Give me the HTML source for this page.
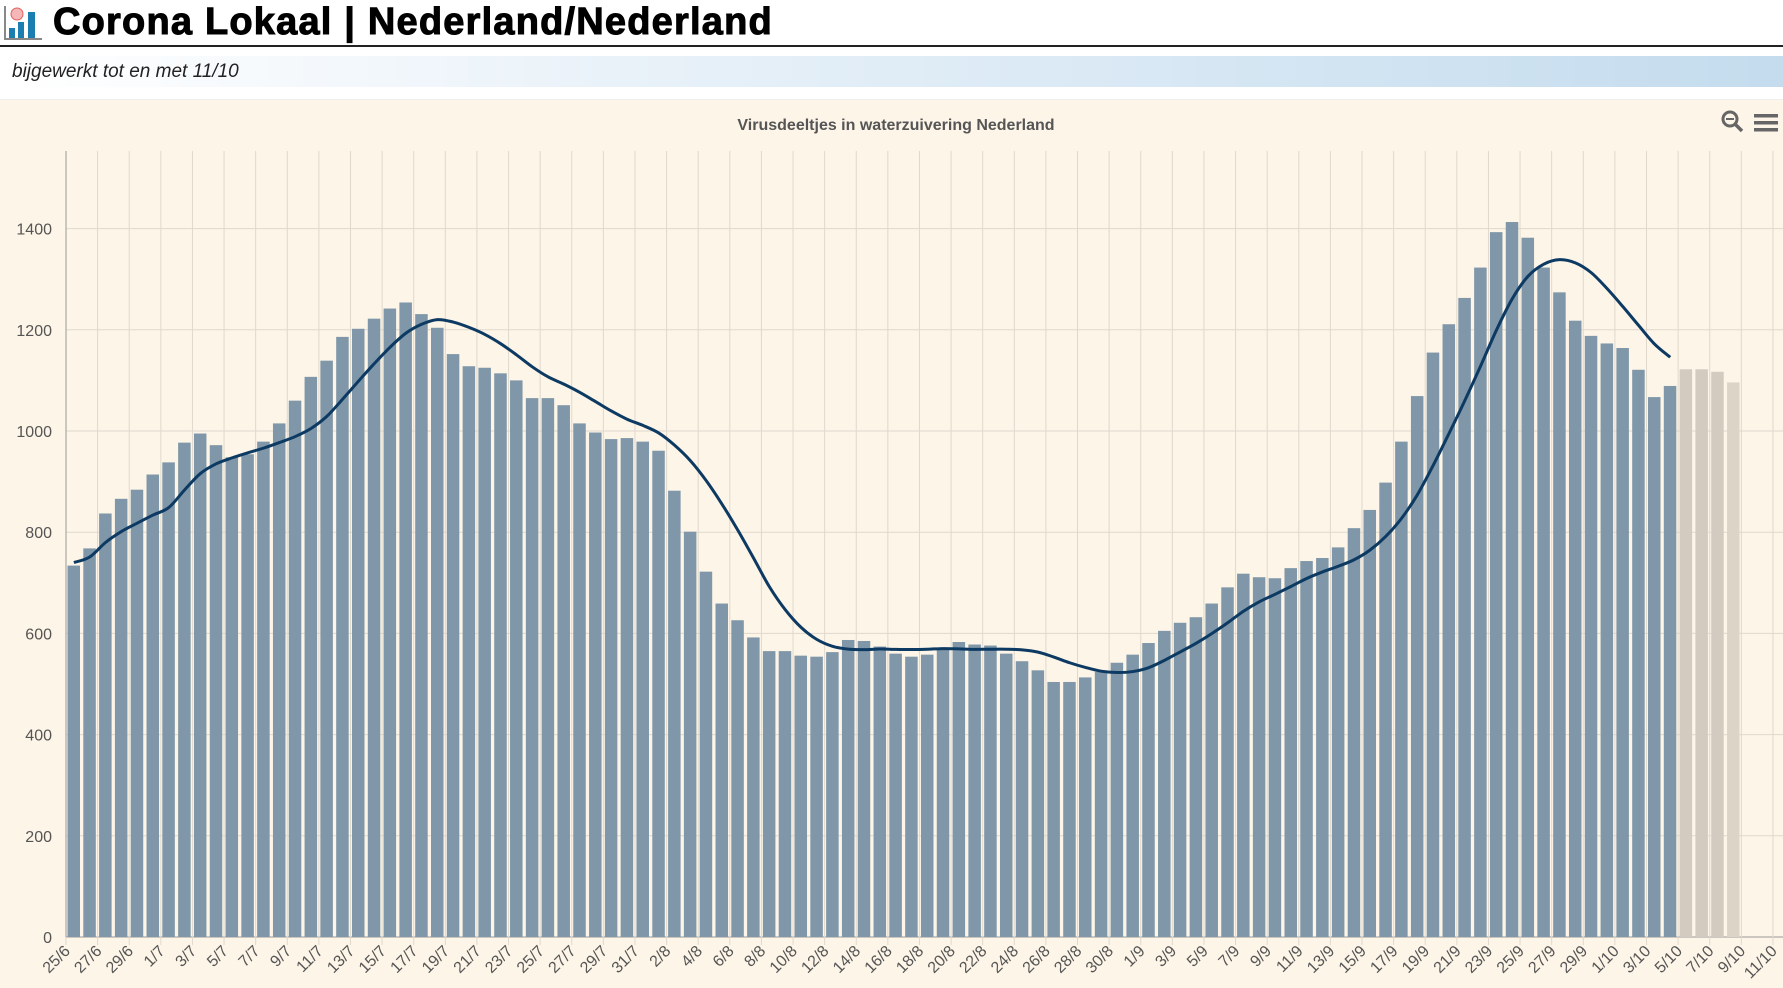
<!DOCTYPE html>
<html><head><meta charset="utf-8">
<style>
body{margin:0;width:1783px;height:987px;overflow:hidden;background:#fff;font-family:"Liberation Sans",sans-serif;}
#t{position:absolute;left:53px;top:1px;font-family:"Liberation Sans Narrow","Liberation Sans",sans-serif;font-weight:900;font-size:38px;color:#000;letter-spacing:1.2px;-webkit-text-stroke:1px #000;}
#hl{position:absolute;left:0;top:45px;width:1783px;height:2px;background:#222;}
#sub{position:absolute;left:0;top:56px;width:1783px;height:31px;background:linear-gradient(90deg,#fff 0%,#e6f0f8 40%,#c4dcee 100%);}
#sub span{position:absolute;left:12px;top:5px;font-style:italic;font-size:19px;color:#222;}
#ch{position:absolute;left:0;top:99px;width:1783px;height:888px;background:#fdf5e8;border-top:1px solid #eee;}
</style></head><body>
<svg style="position:absolute;left:4px;top:4px" width="40" height="38">
<rect x="0" y="2" width="2" height="34" fill="#888"/><rect x="0" y="34" width="38" height="2" fill="#888"/>
<rect x="5" y="24" width="6" height="10" fill="#1a7fb0"/><rect x="14" y="18" width="6" height="16" fill="#1a7fb0"/><rect x="24" y="8" width="7" height="26" fill="#1a7fb0"/>
<circle cx="13" cy="10" r="6" fill="#f4b6b6" stroke="#e06060"/>
</svg>
<div id="t">Corona Lokaal | Nederland/Nederland</div>
<div id="hl"></div>
<div id="sub"><span>bijgewerkt tot en met 11/10</span></div>
<div id="ch"></div>
<svg id="s" style="position:absolute;left:0;top:0" width="1783" height="987"></svg>
<script>
var v=[734,768,837,866,884,914,938,977,995,972,948,954,979,1015,1060,1107,1139,1186,1202,1222,1242,1254,1231,1204,1152,1128,1125,1114,1100,1065,1065,1051,1015,997,984,986,979,961,882,801,722,659,626,592,565,565,556,554,563,587,585,574,560,554,558,572,583,578,576,560,545,527,504,504,513,524,542,558,581,605,621,632,659,691,718,711,709,729,743,749,770,808,844,898,979,1069,1155,1211,1263,1323,1393,1413,1382,1323,1274,1218,1188,1173,1164,1121,1067,1089];
var g=[1122,1122,1117,1096];
var X0=66,DX=15.805,Y0=937,K=101.2/200;
function y(val){return Y0-val*K;}
var h='';
for(var i=0;i<=7;i++){var yy=y(i*200);h+='<line x1="66" x2="1783" y1="'+yy+'" y2="'+yy+'" stroke="'+(i==0?'#999':'#e0d8cc')+'" stroke-width="1"/>';
h+='<text x="52" y="'+(yy+6)+'" text-anchor="end" font-size="16" fill="#555">'+(i*200)+'</text>';}
var months=[[6,30],[7,31],[8,31],[9,30],[10,31]];
var d=25,m=0;
for(var k=0;k<=108;k++){
 if(k%2==0){var xx=X0+k*DX;h+='<line x1="'+xx+'" x2="'+xx+'" y1="151" y2="945" stroke="#e0d8cc"/>';
 h+='<text transform="translate('+(xx+5)+',952) rotate(-45)" text-anchor="end" font-size="16" fill="#555">'+d+'/'+months[m][0]+'</text>';}
 d++;if(d>months[m][1]){d=1;m++;}
}
h+='<line x1="66" x2="66" y1="151" y2="937" stroke="#999"/>';
for(var i=0;i<v.length;i++){var x=X0+i*DX+1.5;h+='<rect x="'+x+'" y="'+y(v[i])+'" width="12.5" height="'+(v[i]*K)+'" fill="#7f97a8"/>';}
for(var j=0;j<g.length;j++){var x=X0+(v.length+j)*DX+1.5;h+='<rect x="'+x+'" y="'+y(g[j])+'" width="12.5" height="'+(g[j]*K)+'" fill="'+(j==3?'#ddd4c8':'#d4cbc0')+'"/>';}
var p=[];for(var i=0;i<v.length;i++){var s=0,c=0;for(var q=Math.max(0,i-6);q<=i;q++){s+=v[q];c++;}p.push([X0+i*DX+7.9,y(s/c)]);}
p[0][1]=y(740);
var dstr='M'+p[0][0]+','+p[0][1];
for(var i=0;i<p.length-1;i++){var p0=p[Math.max(0,i-1)],p1=p[i],p2=p[i+1],p3=p[Math.min(p.length-1,i+2)];
dstr+=' C'+(p1[0]+(p2[0]-p0[0])/6)+','+(p1[1]+(p2[1]-p0[1])/6)+' '+(p2[0]-(p3[0]-p1[0])/6)+','+(p2[1]-(p3[1]-p1[1])/6)+' '+p2[0]+','+p2[1];}
h+='<path d="'+dstr+'" fill="none" stroke="#0d3a63" stroke-width="3"/>';
h+='<text x="896" y="130" text-anchor="middle" font-size="16" font-weight="bold" fill="#555">Virusdeeltjes in waterzuivering Nederland</text>';
h+='<circle cx="1730" cy="119" r="7" fill="none" stroke="#666" stroke-width="3"/><line x1="1735" y1="124" x2="1742" y2="131" stroke="#666" stroke-width="3.5"/><line x1="1726" y1="119" x2="1734" y2="119" stroke="#666" stroke-width="2"/>';
h+='<rect x="1754" y="114" width="24" height="3.5" fill="#666"/><rect x="1754" y="121" width="24" height="3.5" fill="#666"/><rect x="1754" y="128" width="24" height="3.5" fill="#666"/>';
document.getElementById('s').innerHTML=h;
</script>
</body></html>
